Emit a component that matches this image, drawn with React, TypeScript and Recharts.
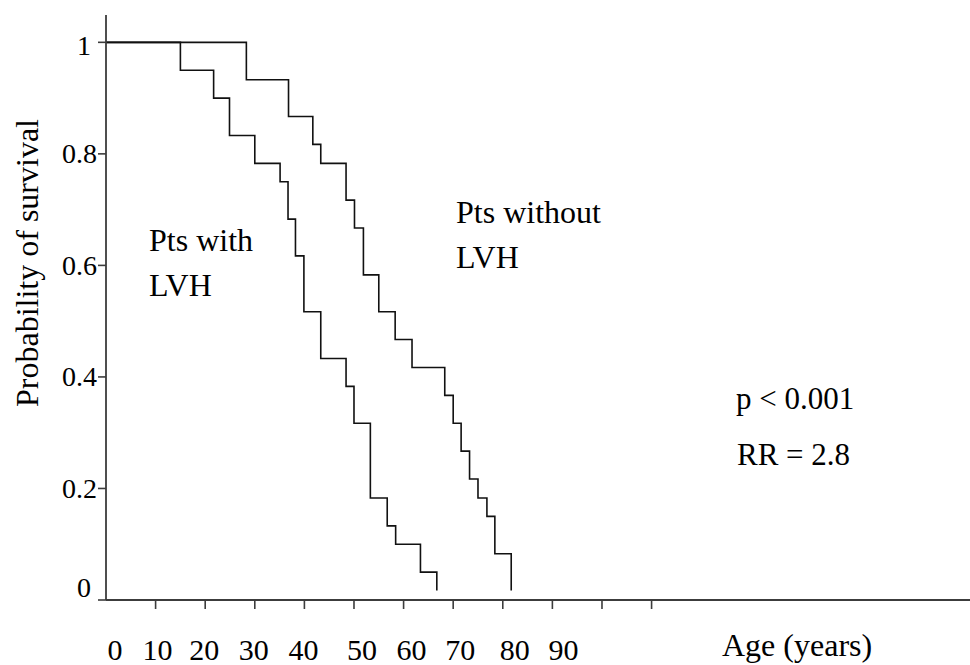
import React from "react";
import { LineChart, Line, XAxis, YAxis } from "recharts";

// ---- data (Kaplan–Meier style step curves) ----
const withLvhAge = [0, 15.0, 21.7, 24.9, 30.0, 35.1, 36.7, 38.2, 39.9, 43.3, 48.4, 50.0, 53.3, 56.7, 58.4, 63.4, 66.7];
const withLvhSurv = [1, 0.95, 0.9, 0.833, 0.783, 0.75, 0.683, 0.617, 0.517, 0.433, 0.383, 0.317, 0.183, 0.133, 0.1, 0.05, 0.017];

const withoutLvhAge = [0, 28.3, 36.8, 41.7, 43.3, 48.4, 50.1, 51.9, 55.0, 58.3, 61.7, 68.3, 70.0, 71.6, 73.3, 75.0, 76.8, 78.4, 81.7];
const withoutLvhSurv = [1, 0.933, 0.867, 0.817, 0.783, 0.717, 0.667, 0.583, 0.517, 0.467, 0.417, 0.367, 0.317, 0.267, 0.217, 0.183, 0.15, 0.083, 0.017];

const xTicks = [0, 10, 20, 30, 40, 50, 60, 70, 80, 90, 100, 110];
const xTickLabels = ["0", "10", "20", "30", "40", "50", "60", "70", "80", "90", "", ""];
const yTicks = [0, 0.2, 0.4, 0.6, 0.8, 1];
const yTickLabels = ["0", "0.2", "0.4", "0.6", "0.8", "1"];

const withLabel = ["Pts with", "LVH"];
const withoutLabel = ["Pts without", "LVH"];
const statsLines = ["p < 0.001", "RR = 2.8"];
const xTitle = "Age (years)";
const yTitle = "Probability of survival";

const withRows = withLvhAge.map((a, i) => ({ age: a, surv: withLvhSurv[i] }));
const withoutRows = withoutLvhAge.map((a, i) => ({ age: a, surv: withoutLvhSurv[i] }));

const FONT = "'Liberation Serif', 'Times New Roman', serif";
const AXIS = "#3c3c3c";
const TXT: React.CSSProperties = { fontFamily: FONT };

// small label nudges observed in the reference (labels not centred under ticks)
const xLabelNudge: Record<number, number> = { 0: 9, 10: 2, 20: -1, 30: -1, 40: -1, 50: 8, 60: 8, 70: 7, 80: 12, 90: 11 };

const XTick = (props: any) => {
  const { x, y, payload } = props;
  const v = payload.value;
  const idx = xTicks.indexOf(v);
  const label = idx >= 0 ? xTickLabels[idx] : "";
  return (
    <g>
      {v !== 0 && <line x1={x} y1={y} x2={x} y2={y + 9} stroke={AXIS} strokeWidth={1.6} />}
      {label && (
        <text x={x + (xLabelNudge[v] || 0)} y={y + 60} textAnchor="middle" style={{ ...TXT, fontSize: 30 }} fill="#000">
          {label}
        </text>
      )}
    </g>
  );
};

const YTick = (props: any) => {
  const { x, y, payload } = props;
  const v = payload.value;
  const idx = yTicks.indexOf(v);
  const label = idx >= 0 ? yTickLabels[idx] : "";
  const single = label.length === 1;
  let dy = 9.5;
  if (v === 0) dy = -3;
  if (v === 1) dy = 13;
  return (
    <g>
      <line x1={x - 8} y1={y} x2={x} y2={y} stroke={AXIS} strokeWidth={1.6} />
      <text x={single ? x - 15 : x - 9} y={y + dy} textAnchor="end" style={{ ...TXT, fontSize: 28 }} fill="#000">
        {label}
      </text>
    </g>
  );
};

export default function App() {
  return (
    <div style={{ position: "absolute", left: 0, top: 0, width: 970, height: 665, background: "#fff" }}>
      <LineChart width={970} height={665} margin={{ top: 15, right: 0, bottom: 0, left: 0 }}>
        <XAxis
          type="number"
          dataKey="age"
          domain={[0, 174.2]}
          ticks={xTicks}
          interval={0}
          height={65}
          tickSize={0}
          tickMargin={0}
          tickLine={false}
          axisLine={{ stroke: AXIS, strokeWidth: 1.8 }}
          tick={<XTick />}
          allowDataOverflow
        />
        <YAxis
          type="number"
          dataKey="surv"
          domain={[0, 1.049]}
          ticks={yTicks}
          interval={0}
          width={106}
          tickSize={0}
          tickMargin={0}
          tickLine={false}
          axisLine={{ stroke: AXIS, strokeWidth: 1.8 }}
          tick={<YTick />}
          allowDataOverflow
        />
        <Line
          data={withRows}
          dataKey="surv"
          type="stepAfter"
          stroke="#111"
          strokeWidth={1.6}
          dot={false}
          activeDot={false}
          isAnimationActive={false}
        />
        <Line
          data={withoutRows}
          dataKey="surv"
          type="stepAfter"
          stroke="#111"
          strokeWidth={1.6}
          dot={false}
          activeDot={false}
          isAnimationActive={false}
        />
      </LineChart>
      <svg
        width={970}
        height={665}
        style={{ position: "absolute", left: 0, top: 0, pointerEvents: "none" }}
      >
        <text x={149} y={251} style={{ ...TXT, fontSize: 32 }} fill="#000">{withLabel[0]}</text>
        <text x={149} y={296} style={{ ...TXT, fontSize: 32 }} fill="#000">{withLabel[1]}</text>
        <text x={456} y={223} style={{ ...TXT, fontSize: 32 }} fill="#000">{withoutLabel[0]}</text>
        <text x={456} y={268} style={{ ...TXT, fontSize: 32 }} fill="#000">{withoutLabel[1]}</text>
        <text x={736} y={409} style={{ ...TXT, fontSize: 31 }} fill="#000">{statsLines[0]}</text>
        <text x={737} y={465} style={{ ...TXT, fontSize: 31 }} fill="#000">{statsLines[1]}</text>
        <text x={722} y={656} style={{ ...TXT, fontSize: 32 }} fill="#000">{xTitle}</text>
        <text
          x={38}
          y={263}
          style={{ ...TXT, fontSize: 32 }}
          fill="#000"
          textAnchor="middle"
          transform="rotate(-90 38 263)"
        >
          {yTitle}
        </text>
      </svg>
    </div>
  );
}
